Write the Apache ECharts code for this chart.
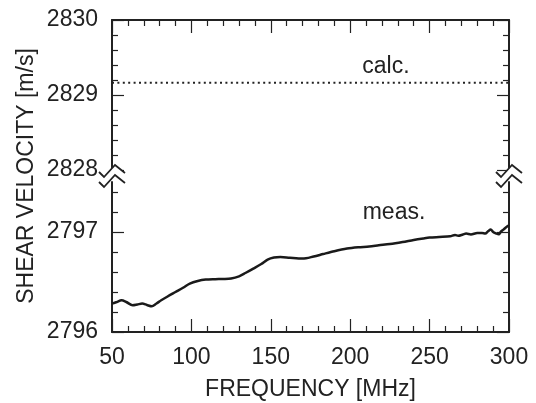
<!DOCTYPE html>
<html><head><meta charset="utf-8">
<script src="https://cdn.jsdelivr.net/npm/echarts@6/dist/echarts.min.js"></script>
<style>html,body{margin:0;padding:0;background:#fff}#c{width:536px;height:403px}</style>
</head><body><div id="c"></div>
<script>
// ---- data ----
const measFreq = [50, 53, 56, 59, 63, 66, 69, 72, 75, 78, 81, 85, 90, 95, 99, 104, 109, 115, 120, 125, 130, 134, 139, 144, 148, 152, 156, 162, 170, 177, 183, 190, 198, 205, 212, 218, 225, 233, 240, 246, 250, 256, 263, 266, 268, 271, 273, 276, 280, 283, 285, 287, 288.5, 290, 292, 293.5, 295, 296.5, 298, 300];
const measVel = [2796.284, 2796.300, 2796.317, 2796.300, 2796.267, 2796.275, 2796.284, 2796.270, 2796.257, 2796.285, 2796.317, 2796.355, 2796.400, 2796.445, 2796.484, 2796.510, 2796.524, 2796.528, 2796.530, 2796.535, 2796.557, 2796.590, 2796.634, 2796.680, 2796.724, 2796.745, 2796.750, 2796.742, 2796.734, 2796.755, 2796.780, 2796.808, 2796.834, 2796.847, 2796.855, 2796.867, 2796.880, 2796.900, 2796.920, 2796.935, 2796.944, 2796.950, 2796.957, 2796.970, 2796.962, 2796.975, 2796.984, 2796.975, 2796.990, 2796.990, 2796.984, 2797.010, 2797.024, 2797.000, 2796.985, 2796.977, 2797.005, 2797.024, 2797.045, 2797.067];
const calcFreq = [50, 300];
const calcVel = [2829.164, 2829.164];
const xTickLabels = [50, 100, 150, 200, 250, 300];
const upperMajorTicks = [2828, 2829, 2830];
const lowerMajorTicks = [2796, 2797];
const lowerMinorTicks = [2796.2, 2796.4, 2796.6, 2796.8, 2797.2, 2797.4];
const labelCalc = 'calc.';
const labelMeas = 'meas.';
const xTitle = 'FREQUENCY [MHz]';
const yTitle = 'SHEAR VELOCITY [m/s]';

// ---- chart ----
const ink = '#222';
const FF = '"Liberation Sans", Arial, Helvetica, sans-serif';
const FS = 23;
const chart = echarts.init(document.getElementById('c'), null, {renderer: 'canvas'});

const lineSt = {color: ink, width: 2};
const tickSt = {color: ink, width: 1.2};
const plain = v => String(Math.round(v * 1000) / 1000);

function xAx(grid, pos, showLabels) {
  return {
    type: 'value', gridIndex: grid, position: pos, min: xTickLabels[0], max: xTickLabels[xTickLabels.length - 1], interval: 50,
    axisLine: {show: true, onZero: false, lineStyle: lineSt},
    axisTick: {show: true, inside: true, length: 13, lineStyle: tickSt},
    minorTick: {show: true, splitNumber: 5, length: 6, lineStyle: tickSt},
    splitLine: {show: false}, minorSplitLine: {show: false},
    axisLabel: {show: showLabels, fontSize: FS, color: ink, fontFamily: FF, margin: 14, formatter: plain},
    name: showLabels ? xTitle : '', nameLocation: 'middle', nameGap: 46,
    nameTextStyle: {fontSize: FS, color: ink, fontFamily: FF}
  };
}

function yUpper(pos, showLabels) {
  return {
    type: 'value', gridIndex: 0, position: pos, min: upperMajorTicks[0], max: upperMajorTicks[2], interval: 1,
    axisLine: {show: true, onZero: false, lineStyle: lineSt},
    axisTick: {show: true, inside: true, length: 12, lineStyle: tickSt},
    minorTick: {show: true, splitNumber: 5, length: 6, lineStyle: tickSt},
    splitLine: {show: false}, minorSplitLine: {show: false},
    axisLabel: {show: showLabels, fontSize: FS, color: ink, fontFamily: FF, margin: 14, showMinLabel: true, showMaxLabel: true, formatter: plain}
  };
}

function yLower(pos, major, showLabels) {
  return {
    type: 'value', gridIndex: 1, position: pos, min: 2796, max: 2797.5, interval: major ? 1 : 0.2,
    axisLine: {show: major, onZero: false, lineStyle: lineSt},
    axisTick: {show: true, inside: true, length: major ? 12 : 6, lineStyle: tickSt,
               customValues: major ? lowerMajorTicks : lowerMinorTicks},
    splitLine: {show: false},
    axisLabel: {show: showLabels, fontSize: FS, color: ink, fontFamily: FF, margin: 14,
                customValues: lowerMajorTicks, formatter: plain}
  };
}

chart.setOption({
  animation: false,
  backgroundColor: '#fff',
  grid: [
    {left: 112, right: 27, top: 20, height: 150},
    {left: 112, right: 27, top: 182, height: 150}
  ],
  xAxis: [xAx(0, 'top', false), xAx(1, 'bottom', true)],
  yAxis: [
    yUpper('left', true), yUpper('right', false),
    yLower('left', true, true), yLower('left', false, false),
    yLower('right', true, false), yLower('right', false, false)
  ],
  series: [
    {
      type: 'line', xAxisIndex: 0, yAxisIndex: 0, symbol: 'none', silent: true,
      data: calcFreq.map((f, i) => [f, calcVel[i]]),
      lineStyle: {color: ink, width: 2, type: [2, 3.4], cap: 'butt'}
    },
    {
      type: 'line', xAxisIndex: 1, yAxisIndex: 2, symbol: 'none', silent: true, smooth: 0.3,
      data: measFreq.map((f, i) => [f, measVel[i]]),
      lineStyle: {color: '#1a1a1a', width: 2.5}
    }
  ]
});

// decorations: axis break marks, titles, annotations
const pTopL = chart.convertToPixel({xAxisIndex: 0, yAxisIndex: 0}, [50, 2828]);
const pTopR = chart.convertToPixel({xAxisIndex: 0, yAxisIndex: 0}, [300, 2828]);
const pBot = chart.convertToPixel({xAxisIndex: 1, yAxisIndex: 2}, [50, 2797.5]);
const yc = (pTopL[1] + pBot[1]) / 2;

function breakMark(x0) {
  const up = [[-13, -4], [-8, 1], [3, -11], [13, -3]].map(p => [x0 + p[0], yc + p[1]]);
  const lo = up.map(p => [p[0], p[1] + 10]);
  return [
    {type: 'polygon', shape: {points: up.concat(lo.slice().reverse())}, style: {fill: '#fff'}, z: 100},
    {type: 'polyline', shape: {points: up}, style: {stroke: ink, lineWidth: 1.8, fill: null}, z: 101},
    {type: 'polyline', shape: {points: lo}, style: {stroke: ink, lineWidth: 1.8, fill: null}, z: 101}
  ];
}

const pCalc = chart.convertToPixel({xAxisIndex: 0, yAxisIndex: 0}, [222.5, 2829.38]);
const pMeas = chart.convertToPixel({xAxisIndex: 1, yAxisIndex: 2}, [227.6, 2797.19]);
const topY = chart.convertToPixel({xAxisIndex: 0, yAxisIndex: 0}, [50, 2830])[1];
const bottomY = chart.convertToPixel({xAxisIndex: 1, yAxisIndex: 2}, [50, 2796])[1];

chart.setOption({
  graphic: [].concat(
    breakMark(pTopL[0]), breakMark(pTopR[0]),
    [
      {type: 'text', x: 27, y: (topY + bottomY) / 2, rotation: Math.PI / 2, z: 50,
       style: {text: yTitle, fill: ink, font: FS + 'px ' + FF, align: 'center', verticalAlign: 'middle'}},
      {type: 'text', x: pCalc[0], y: pCalc[1], z: 50,
       style: {text: labelCalc, fill: ink, font: FS + 'px ' + FF, align: 'center', verticalAlign: 'middle'}},
      {type: 'text', x: pMeas[0], y: pMeas[1], z: 50,
       style: {text: labelMeas, fill: ink, font: FS + 'px ' + FF, align: 'center', verticalAlign: 'middle'}}
    ]
  )
});
</script>
</body></html>
